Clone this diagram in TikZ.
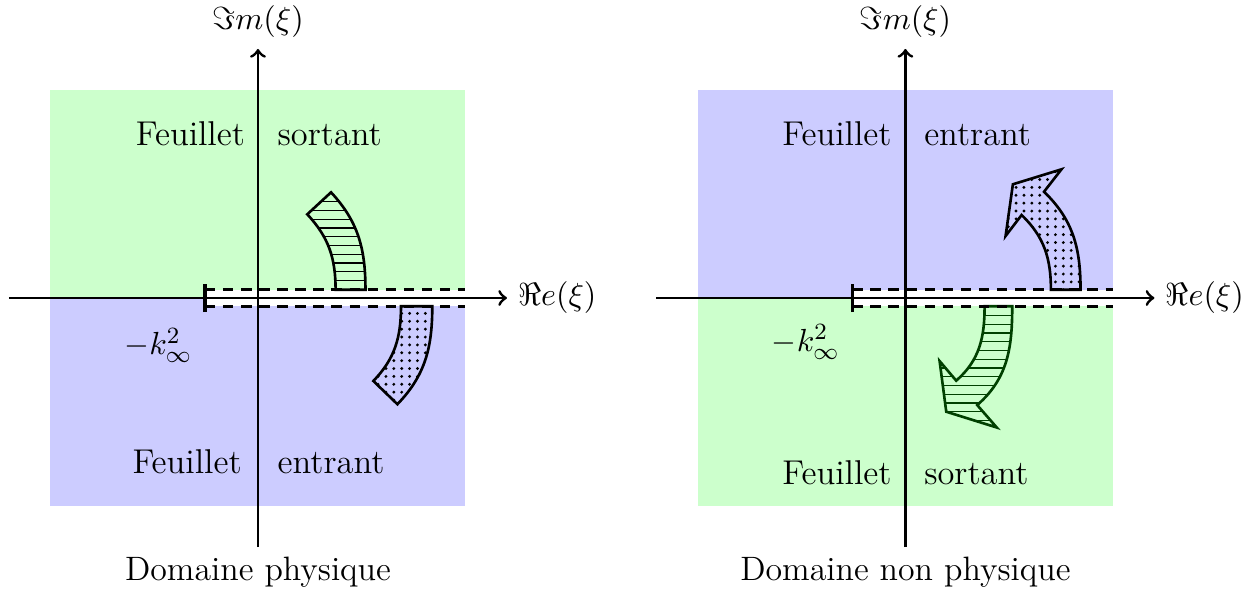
\documentclass[tikz,border=0pt]{standalone}
\usetikzlibrary{patterns}
\pgfdeclarepatternformonly{bigdots}{\pgfqpoint{-1pt}{-1pt}}{\pgfqpoint{1pt}{1pt}}{\pgfqpoint{2.7pt}{2.7pt}}%
{\pgfpathcircle{\pgfqpoint{0pt}{0pt}}{.55pt}\pgfusepath{fill}}
\begin{document}
\begin{tikzpicture}[
  font=\fontsize{11pt}{13pt}\selectfont,
  axis/.style={line width=1pt,->},
  cutline/.style={line width=1pt,dash pattern=on 3.6pt off 2.6pt},
  tickmark/.style={line width=1.2pt},
  hatchband/.style={line width=0.9pt,preaction={fill=green!20},pattern=horizontal lines},
  dotband/.style={line width=0.9pt,preaction={fill=blue!20},pattern=bigdots},
  darkband/.style={line width=0.9pt,draw=green!25!black,preaction={fill=green!20},pattern=horizontal lines,pattern color=green!25!black},
  lbl/.style={inner sep=0pt,font=\fontsize{11.8pt}{14pt}\selectfont},
  captxt/.style={font=\fontsize{11.6pt}{14pt}\selectfont}
]
\useasboundingbox (-3.108,-3.602) rectangle (12.072,3.59);

% ---------------- left diagram ----------------
\fill[green!20] (-2.5,0) rectangle (2.5,2.5);
\fill[blue!20] (-2.5,-2.5) rectangle (2.5,0);
\fill[white] (-0.64,-0.1) rectangle (2.5,0.1);
\node[lbl,anchor=base east] (fl1) at (-0.15,1.84) {Feuillet};
\node[lbl,anchor=base west] (sl1) at (0.23,1.84) {sortant};
\node[lbl,anchor=base east] (fl2) at (-0.19,-2.12) {Feuillet};
\node[lbl,anchor=base west] (el2) at (0.23,-2.12) {entrant};
\draw[hatchband] (0.935,0.1) to[out=90,in=-47] (0.594,1.008) -- (0.88,1.273) to[out=-47,in=90] (1.295,0.1) -- cycle;
\draw[dotband] (1.723,-0.1) to[out=-90,in=46] (1.39,-1.0) -- (1.68,-1.28) to[out=46,in=-90] (2.1,-0.1) -- cycle;
\draw[cutline] (-0.64,0.1) -- (2.5,0.1);
\draw[cutline] (-0.64,-0.1) -- (2.5,-0.1);
\draw[tickmark] (-0.64,-0.17) -- (-0.64,0.17);
\coordinate (xl0) at (-3,0);
\coordinate (xl1) at (3,0);
\coordinate (yl0) at (0,-3);
\coordinate (yl1) at (0,3);
\draw[axis] (xl0) -- (xl1) node[right] (rel) {$\Re e(\xi)$};
\draw[axis] (yl0) -- (yl1) node[above] (iml) {$\Im m(\xi)$};
\node (kl) at (-1.2,-0.57) {$-k_\infty^2$};
\node[below,captxt] (dl) at (yl0) {Domaine physique};

% ---------------- right diagram ----------------
\begin{scope}[shift={(7.8,0)}]
\fill[blue!20] (-2.5,0) rectangle (2.5,2.5);
\fill[green!20] (-2.5,-2.5) rectangle (2.5,0);
\fill[white] (-0.64,-0.1) rectangle (2.5,0.1);
\node[lbl,anchor=base east] (fr1) at (-0.16,1.84) {Feuillet};
\node[lbl,anchor=base west] (er1) at (0.22,1.84) {entrant};
\node[lbl,anchor=base east] (fr2) at (-0.16,-2.25) {Feuillet};
\node[lbl,anchor=base west] (sr2) at (0.22,-2.25) {sortant};
\draw[dotband] (1.753,0.1) to[out=90,in=-44] (1.40,1.0) -- (1.207,0.747) -- (1.295,1.37) -- (1.88,1.55) -- (1.67,1.28) to[out=-44,in=90] (2.11,0.1) -- cycle;
\draw[darkband] (0.954,-0.1) to[out=-90,in=41] (0.612,-0.996) -- (0.412,-0.76) -- (0.492,-1.37) -- (1.10,-1.56) -- (0.865,-1.29) to[out=41,in=-90] (1.287,-0.1) -- cycle;
\draw[cutline] (-0.64,0.1) -- (2.5,0.1);
\draw[cutline] (-0.64,-0.1) -- (2.5,-0.1);
\draw[tickmark] (-0.64,-0.17) -- (-0.64,0.17);
\coordinate (xr0) at (-3,0);
\coordinate (xr1) at (3,0);
\coordinate (yr0) at (0,-3);
\coordinate (yr1) at (0,3);
\draw[axis] (xr0) -- (xr1) node[right] (rer) {$\Re e(\xi)$};
\draw[axis] (yr0) -- (yr1) node[above] (imr) {$\Im m(\xi)$};
\node (kr) at (-1.2,-0.53) {$-k_\infty^2$};
\node[below,captxt] (dr) at (yr0) {Domaine non physique};
\end{scope}
\end{tikzpicture}
\end{document}
